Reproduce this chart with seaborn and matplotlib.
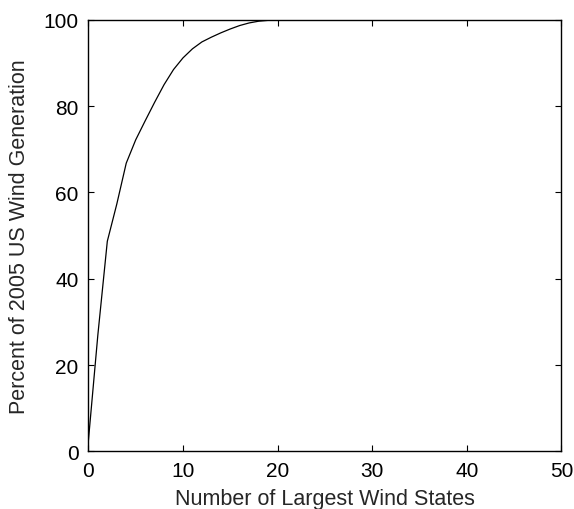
import numpy as np
import pandas as pd
import matplotlib
matplotlib.use("Agg")
import matplotlib.pyplot as plt
import seaborn as sns

# Cumulative share of 2005 US wind generation vs number of largest states
n_states = list(range(0, 51))
pct_head = [2.5, 27.0, 48.7, 57.3, 66.8, 72.2, 76.6, 80.9, 85.0, 88.5,
            91.2, 93.3, 94.9, 96.0, 97.0, 97.9, 98.7, 99.3, 99.7, 99.9]
pct_cum = pct_head + [100.0] * (len(n_states) - len(pct_head))

x_ticks = [0, 10, 20, 30, 40, 50]
y_ticks = [0, 20, 40, 60, 80, 100]

df = pd.DataFrame({"states": n_states, "pct": pct_cum})

sns.set_style("white")
plt.rcParams["font.family"] = ["Liberation Sans", "DejaVu Sans"]

fig = plt.figure(figsize=(5.74, 5.10), dpi=100)
ax = fig.add_axes([0.154, 0.113, 0.824, 0.846])

sns.lineplot(data=df, x="states", y="pct", color="black", linewidth=0.9, ax=ax)

ax.set_xlim(0, 50)
ax.set_ylim(0, 100)
ax.set_xticks(x_ticks)
ax.set_yticks(y_ticks)
ax.tick_params(direction="in", length=4, width=0.8, labelsize=15, pad=7,
               top=True, right=True, bottom=True, left=True, colors="black")
for s in ax.spines.values():
    s.set_visible(True)
    s.set_color("black")
    s.set_linewidth(1.0)

ax.set_xlabel("Number of Largest Wind States", fontsize=15.5, labelpad=6)
ax.set_ylabel("Percent of 2005 US Wind Generation", fontsize=15.5, labelpad=10)

fig.savefig("out.png", dpi=100, facecolor="white")
